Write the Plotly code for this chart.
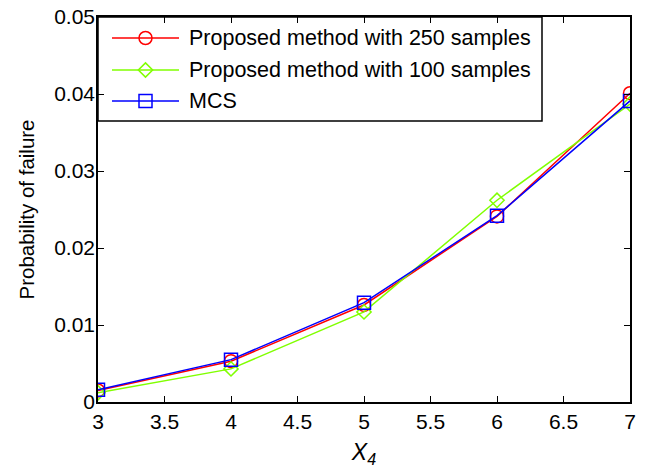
import plotly.graph_objects as go

# ---- data ----
x_vals = [3, 4, 5, 6, 7]
pf_250 = [0.0015, 0.0053, 0.0126, 0.0241, 0.0401]
pf_100 = [0.0012, 0.0043, 0.0117, 0.0262, 0.0387]
pf_mcs = [0.0016, 0.0055, 0.0129, 0.0242, 0.0391]

names = ["Proposed method with 250 samples", "Proposed method with 100 samples", "MCS"]
x_tick_vals = [3, 3.5, 4, 4.5, 5, 5.5, 6, 6.5, 7]
x_tick_text = ["3", "3.5", "4", "4.5", "5", "5.5", "6", "6.5", "7"]
y_tick_vals = [0, 0.01, 0.02, 0.03, 0.04, 0.05]
y_tick_text = ["0", "0.01", "0.02", "0.03", "0.04", "0.05"]

# ---- styles ----
colors = ["#ff0000", "#80ff00", "#0000ff"]
symbols = ["circle-open", "diamond-open", "square-open"]
sizes = [13, 11, 13]
font = "Liberation Sans, Arial, Helvetica, sans-serif"

fig = go.Figure()
for name, ys, c, s, sz in zip(names, [pf_250, pf_100, pf_mcs], colors, symbols, sizes):
    fig.add_trace(go.Scatter(
        x=x_vals, y=ys, name=name, mode="lines+markers", showlegend=False,
        line=dict(color=c, width=1.5),
        marker=dict(symbol=s, size=sz, color=c, line=dict(color=c, width=1.5)),
    ))

# ---- legend drawn in a pixel-based overlay frame (origin at plot top-left) ----
PW, PH = 532, 385
leg_right, leg_bottom = 444, 104
row_y = [21, 53, 84]
fig.add_shape(type="rect", xref="x2", yref="y2", x0=0, x1=leg_right, y0=0, y1=leg_bottom,
              line=dict(color="black", width=1.5), fillcolor="white", layer="below")
for name, c, s, sz, ry in zip(names, colors, symbols, sizes, row_y):
    fig.add_trace(go.Scatter(x=[14, 81], y=[ry, ry], xaxis="x2", yaxis="y2", mode="lines",
                             line=dict(color=c, width=1.5), showlegend=False, hoverinfo="skip"))
    fig.add_trace(go.Scatter(x=[47.5], y=[ry], xaxis="x2", yaxis="y2", mode="markers",
                             marker=dict(symbol=s, size=sz, color=c, line=dict(color=c, width=1.5)),
                             showlegend=False, hoverinfo="skip"))
    fig.add_annotation(x=89, y=ry, xref="x2", yref="y2", text=name, showarrow=False,
                       xanchor="left", yanchor="middle",
                       font=dict(size=21.5, family=font, color="black"))

fig.update_layout(
    width=648, height=470,
    margin=dict(l=98, r=18, t=17, b=68),
    paper_bgcolor="white", plot_bgcolor="white",
    font=dict(family=font, color="black", size=21),
    showlegend=False,
    xaxis=dict(
        range=[3, 7], tickvals=x_tick_vals, ticktext=x_tick_text, automargin=False,
        showgrid=False, zeroline=False, showline=True, linecolor="black", linewidth=1.5,
        mirror="ticks", ticks="inside", ticklen=6, tickcolor="black", tickwidth=1.2,
        tickfont=dict(size=21),
        title=dict(text="<i>X<sub>4</sub></i>", font=dict(size=23), standoff=12),
    ),
    yaxis=dict(
        range=[0, 0.05], tickvals=y_tick_vals, ticktext=y_tick_text, automargin=False,
        showgrid=False, zeroline=False, showline=True, linecolor="black", linewidth=1.5,
        mirror="ticks", ticks="inside", ticklen=6, tickcolor="black", tickwidth=1.2,
        tickfont=dict(size=21), ticklabelstandoff=-3,
        title=dict(text="Probability of failure", font=dict(size=20.5), standoff=14),
    ),
    xaxis2=dict(overlaying="x", range=[0, PW], visible=False, anchor="y2"),
    yaxis2=dict(overlaying="y", range=[PH, 0], visible=False, anchor="x2"),
)
fig.write_html("out.html")
